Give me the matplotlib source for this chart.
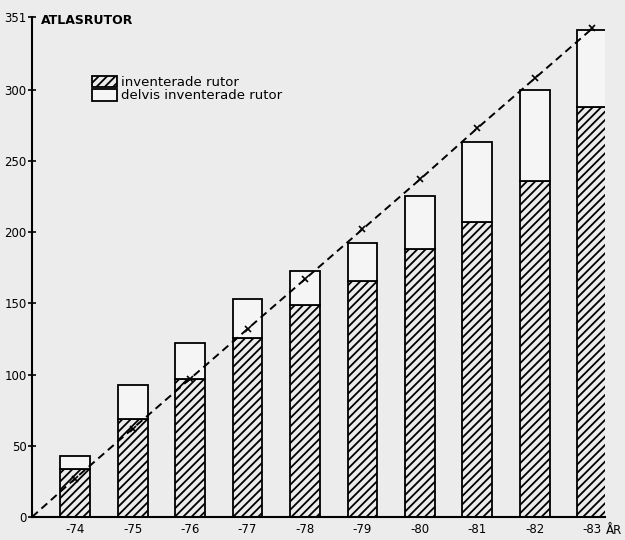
import matplotlib.pyplot as plt
import numpy as np

# values
years = ['-74', '-75', '-76', '-77', '-78', '-79', '-80', '-81', '-82', '-83']
inventerade = [34, 69, 97, 126, 149, 166, 188, 207, 236, 288]
totalt = [43, 93, 122, 153, 173, 192, 225, 263, 300, 342]
prognos = [27, 62, 97, 132, 167, 202, 237, 273, 308, 343]
y_ticks = [0, 50, 100, 150, 200, 250, 300, 351]

delvis = [t - i for t, i in zip(totalt, inventerade)]

bg = '#ececec'
plt.rcParams['hatch.linewidth'] = 1.3

fig = plt.figure(figsize=(6.25, 5.4), dpi=100, facecolor=bg)
ax = fig.add_axes([32 / 625, 23 / 540, 573 / 625, 500 / 540])
ax.set_facecolor(bg)

x = np.arange(len(years))
w = 0.52
ax.bar(x, inventerade, w, color=bg, edgecolor='black', hatch='////', linewidth=1.3,
       label='inventerade rutor')
ax.bar(x, delvis, w, bottom=inventerade, color='#f5f5f5', edgecolor='black',
       linewidth=1.3, label='delvis inventerade rutor')

# dashed line from the origin through the year marks
x0 = -0.75
ax.plot(np.concatenate([[x0], x]), [0] + prognos, color='black', lw=1.4,
        dashes=(4, 2.5), marker='x', markersize=4, mew=1.2, markevery=list(range(1, 11)))

ax.set_xlim(x0, 9.22)
ax.set_ylim(0, 351)
ax.set_yticks(y_ticks)
ax.set_yticklabels([str(v) for v in y_ticks], fontsize=8.5)
ax.set_xticks(x)
ax.set_xticklabels(years, fontsize=8.5)
ax.tick_params(axis='y', direction='inout', length=6, width=1.2, pad=1)
ax.tick_params(axis='x', length=0, pad=4)

for side in ['top', 'right']:
    ax.spines[side].set_visible(False)
ax.spines['left'].set_linewidth(1.5)
ax.spines['bottom'].set_linewidth(1.5)

fig.text(41 / 625, 1 - 20 / 540, 'ATLASRUTOR', fontsize=9, va='center', ha='left',
         fontweight='semibold')
fig.text(606 / 625, 1 - 530 / 540, 'ÅR', fontsize=8.5, va='center', ha='left')

ax.legend(loc='upper left', bbox_to_anchor=(92 / 625, 1 - 76 / 540),
          bbox_transform=fig.transFigure, frameon=False, fontsize=9.5,
          handlelength=1.9, handleheight=0.95, labelspacing=0, handletextpad=0.3,
          borderpad=0, borderaxespad=0)

plt.savefig('out.png', dpi=100, facecolor=bg)
